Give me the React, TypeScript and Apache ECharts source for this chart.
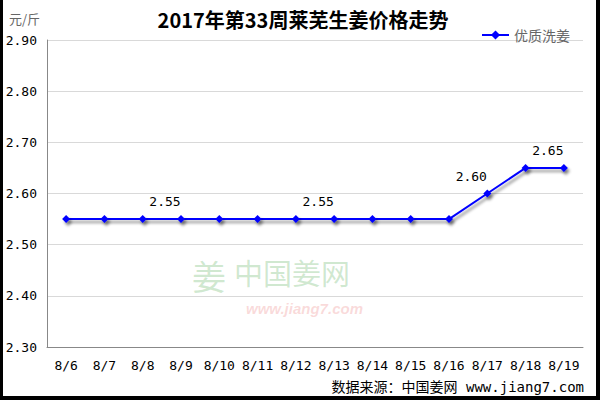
import React, { useEffect, useRef } from "react";
import * as echarts from "echarts";

const categories = ["8/6", "8/7", "8/8", "8/9", "8/10", "8/11", "8/12", "8/13", "8/14", "8/15", "8/16", "8/17", "8/18", "8/19"];
const values = [2.55, 2.55, 2.55, 2.55, 2.55, 2.55, 2.55, 2.55, 2.55, 2.55, 2.55, 2.6, 2.65, 2.65];
const labeledIndices = [3, 7, 11, 13];
const seriesName = "优质洗姜";
const titleText = "2017年第33周莱芜生姜价格走势";
const unitText = "元/斤";
const sourceText = "数据来源：中国姜网 www.jiang7.com";

export default function App() {
  const ref = useRef<HTMLDivElement>(null);
  useEffect(() => {
    if (!ref.current) return;
    const chart = echarts.init(ref.current, null, { renderer: "svg" });
    const mono = "'DejaVu Sans Mono', monospace";
    const cjk = "'Noto Sans CJK SC', sans-serif";
    chart.setOption({
      animation: false,
      backgroundColor: "#fff",
      title: {
        text: titleText,
        left: 298,
        textAlign: "center",
        top: 4,
        textStyle: { fontSize: 20, fontWeight: "bold", color: "#000", fontFamily: cjk },
      },
      legend: {
        right: 25,
        top: 23,
        itemWidth: 27,
        itemHeight: 8,
        itemGap: 5,
        icon: "path://M0,4 L10,4 L13,1 L16,4 L13,7 L10,4 L26,4",
        data: [{ name: seriesName, itemStyle: { color: "#0000ff", borderColor: "#0000ff", borderWidth: 2 } }],
        textStyle: { color: "#666", fontSize: 14, fontFamily: cjk },
      },
      grid: { left: 47, right: 17, top: 40, bottom: 53 },
      xAxis: {
        type: "category",
        data: categories,
        boundaryGap: true,
        axisLine: { lineStyle: { color: "#888", width: 1 } },
        axisTick: { inside: true, length: 5, lineStyle: { color: "#888" } },
        axisLabel: { color: "#000", fontSize: 13, margin: 12, fontFamily: mono, interval: 0 },
        splitLine: { show: false },
      },
      yAxis: {
        type: "value",
        min: 2.3,
        max: 2.9,
        interval: 0.1,
        axisLine: { show: true, lineStyle: { color: "#888" } },
        axisTick: { show: false },
        axisLabel: {
          color: "#000",
          fontSize: 13,
          margin: 10,
          fontFamily: mono,
          formatter: (v: number) => v.toFixed(2),
        },
        splitLine: { lineStyle: { color: "#d9d9d9" } },
      },
      series: [
        {
          name: seriesName,
          type: "line",
          data: values.map((v, i) => ({
            value: v,
            label: labeledIndices.includes(i)
              ? { show: true, position: "top", offset: [-16, -2], formatter: (p: any) => p.value.toFixed(2) }
              : { show: false },
          })),
          symbol: "diamond",
          symbolSize: 8,
          itemStyle: { color: "#0000ff", shadowColor: "rgba(0,0,0,0.45)", shadowBlur: 3, shadowOffsetX: 2, shadowOffsetY: 3 },
          lineStyle: { color: "#0000ff", width: 2, shadowColor: "rgba(0,0,0,0.45)", shadowBlur: 3, shadowOffsetX: 2, shadowOffsetY: 3 },
          label: { color: "#000", fontSize: 13, fontFamily: mono },
          z: 3,
        },
      ],
      graphic: [
        { type: "text", left: 9, top: 12, style: { text: unitText, fill: "#666", fontSize: 13, fontFamily: cjk } },
        {
          type: "text",
          right: 16,
          top: 380,
          style: { text: sourceText, fill: "#000", fontSize: 14, fontFamily: "'DejaVu Sans Mono', 'Noto Sans CJK SC', monospace" },
        },
        {
          type: "text",
          left: 192,
          top: 258,
          z: 0,
          style: { text: "姜", fill: "rgba(120,190,120,0.35)", fontSize: 34, fontFamily: cjk },
        },
        {
          type: "text",
          left: 234,
          top: 257,
          z: 0,
          style: { text: "中国姜网", fill: "rgba(120,190,120,0.35)", fontSize: 29, fontFamily: cjk, letterSpacing: 5 },
        },
        {
          type: "text",
          left: 246,
          top: 301,
          z: 0,
          style: { text: "www.jiang7.com", fill: "rgba(240,150,150,0.35)", fontSize: 15, fontStyle: "italic", fontFamily: "Arial, 'Liberation Sans', sans-serif", fontWeight: "bold" },
        },
      ],
    });
    return () => chart.dispose();
  }, []);
  return (
    <div
      style={{
        position: "fixed",
        left: 0,
        top: 0,
        width: 600,
        height: 400,
        boxSizing: "border-box",
        borderLeft: "3px solid #000",
        borderRight: "4px solid #000",
        borderBottom: "4px solid #000",
        background: "#fff",
        overflow: "hidden",
      }}
    >
      <div ref={ref} style={{ position: "absolute", left: -3, top: 0, width: 600, height: 400 }} />
    </div>
  );
}
